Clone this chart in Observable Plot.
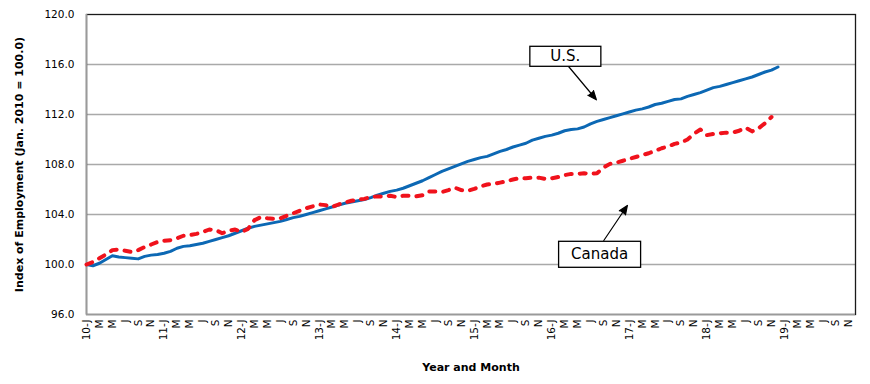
<!DOCTYPE html>
<html>
<head>
<meta charset="utf-8">
<script src="https://cdn.jsdelivr.net/npm/d3@7"></script>
<script src="https://cdn.jsdelivr.net/npm/@observablehq/plot@0.6"></script>
<style>
  html, body { margin: 0; padding: 0; background: #fff; }
  #chart svg { font-family: "DejaVu Sans", sans-serif; }
</style>
</head>
<body>
<div id="chart"></div>
<script>
// ---- Data ----
const years = ["10", "11", "12", "13", "14", "15", "16", "17", "18", "19"];
const monthLetters = ["J", "F", "M", "A", "M", "J", "J", "A", "S", "O", "N", "D"];

// Monthly index, Jan 2010 = 100.0 (Jan 2010 .. Dec 2018)
const usIndex = [
  100.0, 99.9, 100.1, 100.4, 100.7, 100.6, 100.55, 100.5, 100.45, 100.65, 100.75, 100.8,
  100.9, 101.05, 101.3, 101.45, 101.5, 101.6, 101.7, 101.85, 102.0, 102.15, 102.3, 102.5,
  102.7, 102.9, 103.05, 103.15, 103.25, 103.35, 103.45, 103.6, 103.75, 103.85, 104.0, 104.15,
  104.3, 104.45, 104.6, 104.75, 104.9, 105.0, 105.1, 105.2, 105.35, 105.55, 105.7, 105.85,
  105.95, 106.1, 106.3, 106.5, 106.7, 106.95, 107.2, 107.45, 107.65, 107.85, 108.05, 108.25,
  108.4, 108.55, 108.65, 108.85, 109.05, 109.2, 109.4, 109.55, 109.7, 109.95, 110.1, 110.25,
  110.35, 110.5, 110.7, 110.8, 110.85, 111.0, 111.25, 111.45, 111.6, 111.75, 111.9, 112.05,
  112.2, 112.35, 112.45, 112.6, 112.8, 112.9, 113.05, 113.2, 113.25, 113.45, 113.6, 113.75,
  113.95, 114.15, 114.25, 114.4, 114.55, 114.7, 114.85, 115.0, 115.2, 115.4, 115.55, 115.8
];
// Jan 2010 .. Nov 2018
const canadaIndex = [
  100.0, 100.2, 100.5, 100.8, 101.15, 101.2, 101.1, 101.0, 101.15, 101.4, 101.6, 101.8,
  101.9, 101.95, 102.1, 102.3, 102.35, 102.45, 102.6, 102.8, 102.75, 102.5, 102.7, 102.8,
  102.6, 102.85, 103.55, 103.8, 103.7, 103.65, 103.7, 103.9, 104.1, 104.3, 104.5, 104.65,
  104.8, 104.75, 104.6, 104.8, 104.95, 105.1, 105.2, 105.25, 105.4, 105.45, 105.45, 105.5,
  105.4, 105.5, 105.5, 105.45, 105.55, 105.85, 105.85, 105.8, 105.95, 106.15, 105.95, 105.9,
  106.05, 106.25, 106.4, 106.45, 106.55, 106.65, 106.8, 106.9, 106.9, 106.95, 106.95, 106.85,
  106.9, 107.0, 107.15, 107.25, 107.25, 107.3, 107.25, 107.3, 107.75, 108.05, 108.15, 108.3,
  108.45, 108.6, 108.75, 108.9, 109.1, 109.3, 109.45, 109.65, 109.75, 110.0, 110.45, 110.8,
  110.35, 110.45, 110.5, 110.55, 110.55, 110.7, 110.95, 110.65, 110.9, 111.3, 111.8
];

const yTicks = [96, 100, 104, 108, 112, 116, 120];
const yTitle = "Index of Employment (Jan. 2010 = 100.0)";
const xTitle = "Year and Month";

// Callout labels, anchored in data space (month index, index value)
const calloutLabels = ["U.S.", "Canada"];
const calloutTextX = [74.1, 79.4];
const calloutTextY = [116.64, 100.8];
const arrowFromX = [74.6, 80.05];
const arrowFromY = [115.84, 101.92];
const arrowToX = [78.9, 83.7];
const arrowToY = [113.18, 104.72];

// ---- Derived tables ----
const monthCount = years.length * 12;
const monthLabels = d3.range(monthCount).map(i => {
  const m = i % 12;
  return m === 0 ? `${years[Math.floor(i / 12)]}-J` : monthLetters[m];
});
const xTickIdx = d3.range(0, monthCount, 2);
const usRows = usIndex.map((v, i) => ({ i, v }));
const caRows = canadaIndex.map((v, i) => ({ i, v }));
const callouts = calloutLabels.map((label, k) => ({
  label, tx: calloutTextX[k], ty: calloutTextY[k],
  x1: arrowFromX[k], y1: arrowFromY[k], x2: arrowToX[k], y2: arrowToY[k]
}));
const calloutBox = [{ w: 71, h: 20 }, { w: 82, h: 26 }];

const chart = Plot.plot({
  width: 870,
  height: 384,
  marginLeft: 86,
  marginRight: 15,
  marginTop: 14,
  marginBottom: 70,
  style: { fontFamily: "DejaVu Sans, sans-serif", fontSize: "10.5px", color: "#000", background: "#fff" },
  x: { domain: [0, monthCount - 1] },
  y: { domain: [96, 120] },
  marks: [
    Plot.gridY(yTicks.slice(1, -1), { stroke: "#a9a9a9", strokeOpacity: 1, strokeWidth: 1.5 }),
    Plot.frame({ stroke: "#1a1a1a", strokeWidth: 1.3 }),
    Plot.ruleX([0], { stroke: "#9a9a9a", strokeWidth: 1.6 }),
    Plot.ruleY([96], { stroke: "#9a9a9a", strokeWidth: 1.6 }),
    Plot.axisY(yTicks, {
      tickSize: 0, tickPadding: 12, fontSize: 10.5,
      tickFormat: d => d.toFixed(1), label: null
    }),
    Plot.axisX(xTickIdx, {
      tickSize: 0, tickPadding: 5, tickRotate: -90, fontSize: 10.5,
      tickFormat: i => monthLabels[i], label: null
    }),
    Plot.text([yTitle], {
      frameAnchor: "left", textAnchor: "middle", dx: -67, rotate: -90,
      fontSize: 11, fontWeight: "bold", fill: "#000"
    }),
    Plot.text([xTitle], {
      frameAnchor: "bottom", textAnchor: "middle", lineAnchor: "middle", dy: 53,
      fontSize: 11, fontWeight: "bold", fill: "#000"
    }),
    Plot.line(usRows, { x: "i", y: "v", stroke: "#0c68b4", strokeWidth: 3, strokeLinejoin: "round" }),
    Plot.line(caRows, {
      x: "i", y: "v", stroke: "#f0121c", strokeWidth: 4,
      strokeDasharray: "6,8", strokeLinecap: "round", strokeLinejoin: "round"
    }),
    Plot.arrow(callouts, {
      x1: "x1", y1: "y1", x2: "x2", y2: "y2",
      stroke: "#000", strokeWidth: 1.2, headLength: 12, headAngle: 45
    }),
    Plot.text(callouts, { x: "tx", y: "ty", text: "label", fontSize: 15, fill: "#000" })
  ]
});

document.getElementById("chart").appendChild(chart);

// Filled arrowheads
chart.querySelectorAll('g[aria-label="arrow"] path').forEach(p => p.setAttribute("fill", "#000"));

// Boxes behind callout text
chart.querySelectorAll("text").forEach(t => {
  const k = calloutLabels.indexOf(t.textContent);
  if (k < 0) return;
  const bb = t.getBBox();
  const cx = bb.x + bb.width / 2, cy = bb.y + bb.height / 2;
  const r = document.createElementNS("http://www.w3.org/2000/svg", "rect");
  r.setAttribute("x", cx - calloutBox[k].w / 2);
  r.setAttribute("y", cy - calloutBox[k].h / 2);
  r.setAttribute("width", calloutBox[k].w);
  r.setAttribute("height", calloutBox[k].h);
  r.setAttribute("fill", "#fff");
  r.setAttribute("stroke", "#000");
  r.setAttribute("stroke-width", "1.3");
  const tr = t.getAttribute("transform");
  if (tr) r.setAttribute("transform", tr);
  t.parentNode.insertBefore(r, t);
});
</script>
</body>
</html>
